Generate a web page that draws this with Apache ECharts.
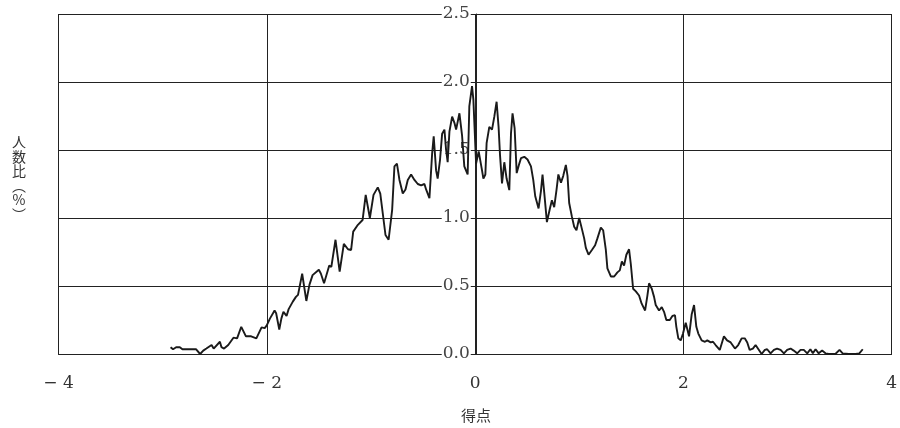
<!DOCTYPE html>
<html><head><meta charset="utf-8">
<script src="https://cdn.jsdelivr.net/npm/echarts@6/dist/echarts.min.js"></script>
<style>html,body{margin:0;padding:0;background:#fff}#c{width:900px;height:428px}</style>
</head><body><div id="c"></div>
<script>
// score (x) values
const scores = [
-2.924,-2.90,-2.87,-2.835,-2.81,-2.77,-2.72,-2.68,-2.64,-2.61,-2.58,-2.53,-2.51,-2.45,-2.435,-2.41,-2.37,-2.32,-2.285,-2.245,
-2.20,-2.15,-2.10,-2.05,-2.02,-2.00,-1.97,-1.925,-1.91,-1.88,-1.86,-1.84,-1.81,-1.79,-1.75,-1.72,-1.70,-1.66,-1.62,-1.59,
-1.56,-1.50,-1.48,-1.45,-1.40,-1.38,-1.34,-1.30,-1.26,-1.22,-1.19,-1.17,-1.125,-1.08,-1.05,-1.01,-0.975,-0.934,-0.91,-0.86,
-0.83,-0.796,-0.774,-0.75,-0.726,-0.694,-0.668,-0.646,-0.614,-0.582,-0.55,-0.518,-0.486,-0.47,-0.438,-0.412,-0.397,-0.374,-0.359,-0.336,
-0.316,-0.294,-0.278,-0.263,-0.246,-0.22,-0.198,-0.182,-0.15,-0.125,-0.103,-0.071,-0.055,-0.029,-0.016,0.01,0.035,0.067,0.08,0.099,
0.111,0.137,0.163,0.185,0.207,0.226,0.24,0.259,0.281,0.303,0.329,0.345,0.36,0.38,0.40,0.425,0.441,0.473,0.504,0.537,
0.559,0.578,0.61,0.633,0.648,0.664,0.69,0.719,0.738,0.76,0.782,0.80,0.825,0.847,0.872,0.888,0.904,0.93,0.952,0.974,
1.0,1.026,1.048,1.064,1.09,1.122,1.153,1.175,1.208,1.23,1.256,1.271,1.304,1.336,1.367,1.39,1.41,1.431,1.453,1.479,
1.496,1.518,1.544,1.575,1.60,1.633,1.655,1.671,1.697,1.719,1.735,1.767,1.793,1.815,1.837,1.87,1.895,1.92,1.933,1.952,
1.975,1.997,2.023,2.055,2.08,2.103,2.125,2.144,2.176,2.208,2.23,2.263,2.285,2.31,2.35,2.39,2.42,2.455,2.496,2.527,
2.56,2.59,2.614,2.637,2.668,2.694,2.726,2.752,2.783,2.805,2.838,2.87,2.90,2.934,2.966,2.997,3.03,3.06,3.093,3.126,
3.157,3.19,3.22,3.244,3.27,3.30,3.333,3.365,3.397,3.46,3.50,3.53,3.59,3.653,3.69,3.723
];
// ratio of people (%)
const ratios = [
0.05,0.035,0.05,0.05,0.035,0.035,0.035,0.035,0.0,0.025,0.04,0.066,0.04,0.09,0.05,0.04,0.066,0.12,0.115,0.2,
0.13,0.13,0.115,0.196,0.19,0.21,0.26,0.32,0.30,0.18,0.26,0.31,0.28,0.33,0.385,0.42,0.435,0.59,0.39,0.51,
0.58,0.62,0.59,0.52,0.65,0.64,0.84,0.605,0.81,0.77,0.765,0.90,0.95,0.985,1.17,1.0,1.17,1.225,1.18,0.875,
0.84,1.06,1.38,1.40,1.28,1.18,1.21,1.28,1.32,1.28,1.25,1.24,1.25,1.21,1.145,1.475,1.60,1.35,1.29,1.43,
1.62,1.65,1.50,1.41,1.635,1.745,1.70,1.65,1.77,1.61,1.38,1.32,1.82,1.97,1.87,1.40,1.49,1.35,1.29,1.32,
1.55,1.67,1.65,1.745,1.855,1.67,1.46,1.255,1.41,1.29,1.205,1.62,1.77,1.66,1.33,1.40,1.44,1.45,1.43,1.38,
1.28,1.16,1.07,1.20,1.32,1.19,0.97,1.07,1.13,1.08,1.205,1.32,1.26,1.31,1.39,1.31,1.11,1.01,0.936,0.91,
1.0,0.92,0.85,0.78,0.73,0.765,0.80,0.85,0.93,0.91,0.765,0.63,0.57,0.57,0.60,0.615,0.68,0.65,0.73,0.77,
0.66,0.48,0.46,0.43,0.37,0.32,0.43,0.52,0.48,0.42,0.36,0.32,0.345,0.31,0.25,0.25,0.28,0.285,0.20,0.115,
0.10,0.15,0.23,0.13,0.29,0.36,0.20,0.15,0.10,0.09,0.10,0.085,0.09,0.066,0.03,0.13,0.10,0.085,0.04,0.066,
0.115,0.115,0.085,0.03,0.04,0.066,0.03,0.0,0.03,0.035,0.005,0.03,0.04,0.03,0.005,0.03,0.04,0.025,0.005,0.03,
0.03,0.005,0.035,0.005,0.035,0.005,0.025,0.005,0.0,0.0,0.03,0.005,0.0,0.0,0.005,0.035
];
const xTicks = [-4, -2, 0, 2, 4];
const yTicks = [0, 0.5, 1.0, 1.5, 2.0, 2.5];
const xTitle = '得点';
const yTitle = ['人','数','比','︵','%','︶'];

const serif = '"DejaVu Serif","Liberation Serif",serif';
const gridLeft = 58.5, gridRight = 7, W = 900;
const xMin = xTicks[0], xMax = xTicks[xTicks.length - 1];
const plotW = W - gridLeft - gridRight;
const zeroOffset = -plotW * (0 - xMin) / (xMax - xMin);

const chart = echarts.init(document.getElementById('c'), null, {renderer: 'canvas'});
chart.setOption({
  animation: false,
  backgroundColor: '#fff',
  grid: {left: gridLeft, right: gridRight, top: 14, bottom: 74, containLabel: false},
  xAxis: {
    type: 'value', min: xMin, max: xMax, interval: 2,
    axisLine: {show: true, lineStyle: {color: '#222', width: 1}},
    axisTick: {show: false},
    splitLine: {show: true, lineStyle: {color: '#222', width: 1}},
    axisLabel: {
      margin: 21, color: '#333', fontFamily: serif, fontSize: 17,
      formatter: v => v < 0 ? '− ' + Math.abs(v) : String(v)
    }
  },
  yAxis: {
    type: 'value', min: yTicks[0], max: yTicks[yTicks.length - 1], interval: 0.5,
    offset: zeroOffset,
    axisLine: {show: true, onZero: false, lineStyle: {color: '#222', width: 1}},
    axisTick: {show: false},
    splitLine: {show: true, lineStyle: {color: '#222', width: 1}},
    axisLabel: {
      margin: 5, color: '#444', fontFamily: serif, fontSize: 17,
      backgroundColor: '#fff', padding: [0, 1],
      formatter: v => v.toFixed(1)
    }
  },
  graphic: [
    {type: 'text', style: {text: xTitle, x: 476, y: 415, align: 'center', verticalAlign: 'middle',
      font: '15px "Noto Sans CJK JP"', fill: '#333'}},
    {type: 'text', style: {text: yTitle.join('\n'), x: 19, y: 178, align: 'center', verticalAlign: 'middle',
      font: '14px "Noto Sans CJK JP"', fill: '#333', lineHeight: 14.5}}
  ],
  series: [{
    type: 'line',
    data: scores.map((s, i) => [s, ratios[i]]),
    showSymbol: false, symbol: 'none',
    lineStyle: {color: '#1a1a1a', width: 1.9},
    z: 5
  }]
});
</script></body></html>
